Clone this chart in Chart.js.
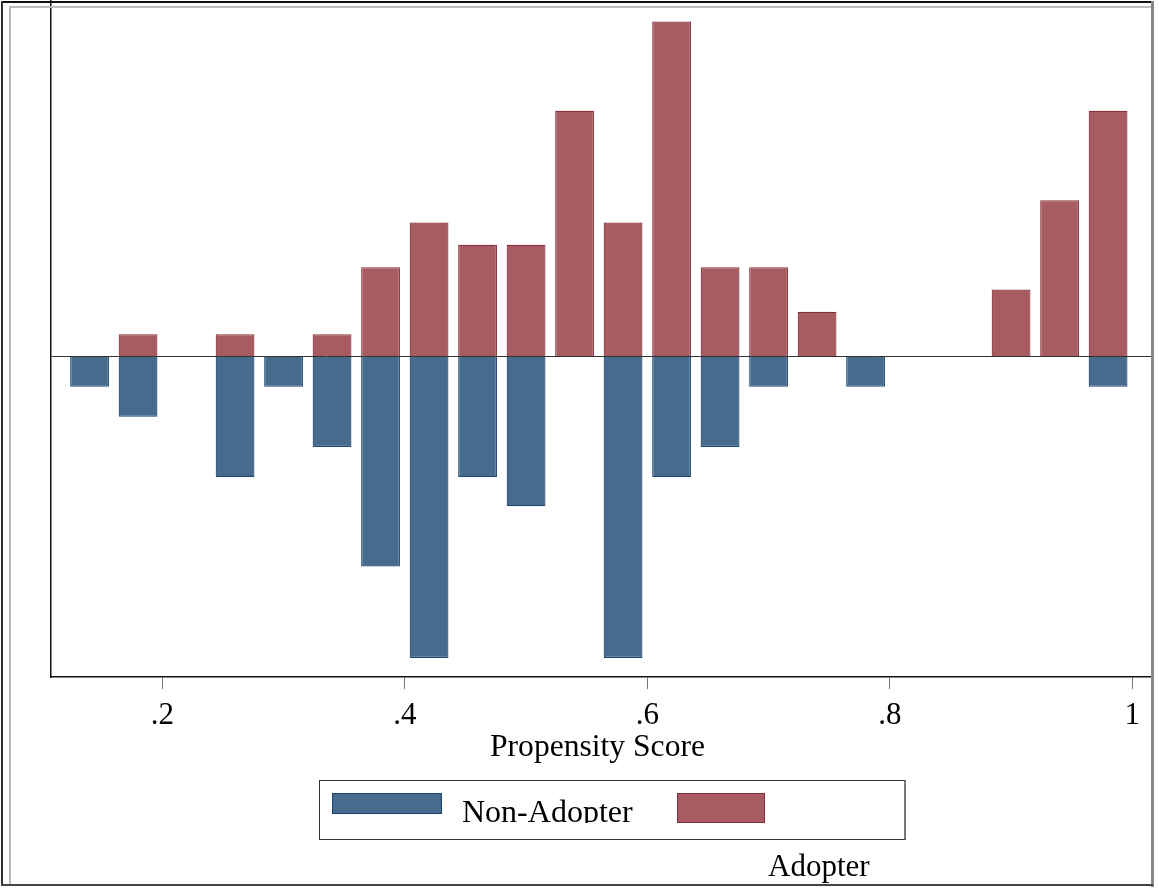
<!DOCTYPE html>
<html>
<head>
<meta charset="utf-8">
<script src="https://cdn.jsdelivr.net/npm/chart.js@4.4.1/dist/chart.umd.min.js"></script>
<style>
  html, body { margin: 0; padding: 0; background: #fff; }
  #wrap { position: relative; width: 1159px; height: 890px; overflow: hidden; font-family: "Liberation Serif", "Times New Roman", serif; color: #000; }
  #myChart { position: absolute; left: 0; top: 0; }
  .ln { position: absolute; }
  .txt { position: absolute; white-space: nowrap; line-height: 32px; }
  .sw { position: absolute; box-sizing: border-box; }
</style>
</head>
<body>
<div id="wrap">
  <canvas id="myChart" width="1159" height="890"></canvas>

  <!-- frame -->
  <div class="ln" style="left:1px;top:1px;width:1151px;height:2px;background:#111"></div>
  <div class="ln" style="left:1px;top:1px;width:2px;height:885px;background:#333"></div>
  <div class="ln" style="left:9px;top:6px;width:1142px;height:2px;background:#bbb"></div>
  <div class="ln" style="left:9px;top:6px;width:2px;height:880px;background:#bbb"></div>
  <div class="ln" style="left:1151px;top:1px;width:3px;height:886px;background:#888"></div>
  <div class="ln" style="left:1px;top:884px;width:1152px;height:2px;background:#444"></div>

  <div class="txt" style="left:490px;top:730px;font-size:31.6px">Propensity Score</div>

  <!-- legend -->
  <div class="sw" style="left:319px;top:780px;width:587px;height:60px;border:1px solid #333;border-right:2px solid #777"></div>
  <div class="sw" id="swBlue" style="left:332px;top:793px;width:110px;height:21px"></div>
  <div class="txt" style="left:462px;top:795px;height:28px;overflow:hidden;font-size:32px">Non-Adopter</div>
  <div class="sw" id="swRed" style="left:677px;top:793px;width:88px;height:30px"></div>
  <div class="txt" style="left:768px;top:850px;font-size:31px">Adopter</div>
</div>

<script>
// propensity score bins (bar centres)
var scoreBins = [0.14, 0.18, 0.26, 0.30, 0.34, 0.38, 0.42, 0.46, 0.50, 0.54,
                 0.58, 0.62, 0.66, 0.70, 0.74, 0.78, 0.90, 0.94, 0.98];
// bar heights (same unit for both)
var adopter    = [null, 1, 1, null, 1, 4, 6, 5, 5, 11, 6, 15, 4, 4, 2, null, 3, 7, 11];
var nonAdopter = [1.35, 2.7, 5.4, 1.35, 4.05, 9.4, 13.5, 5.4, 6.7, null,
                  13.5, 5.4, 4.05, 1.35, null, 1.35, null, null, 1.35];
var tickValues = [0.2, 0.4, 0.6, 0.8, 1];
var tickLabels = [".2", ".4", ".6", ".8", "1"];

var blueFill = "#476b8d", blueLine = "#1c4672";
var redFill = "#a65c60", redLine = "#86303a";

document.getElementById("swBlue").style.cssText += ";background:" + blueFill + ";border:1px solid " + blueLine;
document.getElementById("swRed").style.cssText += ";background:" + redFill + ";border:1px solid " + redLine;

function points(vals, sign) {
    var out = [];
    for (var i = 0; i < scoreBins.length; i++) {
        if (vals[i] !== null) out.push({ x: scoreBins[i], y: sign * vals[i] });
    }
    return out;
}

var serif = "'Liberation Serif', 'Times New Roman', serif";

var ctx = document.getElementById("myChart").getContext("2d");
var psChart = new Chart(ctx, {
    type: "bar",
    data: {
        datasets: [{
            label: "Non-Adopter",
            data: points(nonAdopter, -1),
            backgroundColor: blueFill,
            borderColor: blueLine,
            borderWidth: 1.2,
            grouped: false,
            categoryPercentage: 1,
            barPercentage: 0.8
        }, {
            label: "Adopter",
            data: points(adopter, 1),
            backgroundColor: redFill,
            borderColor: redLine,
            borderWidth: 1.2,
            grouped: false,
            categoryPercentage: 1,
            barPercentage: 0.8
        }]
    },
    options: {
        responsive: false,
        animation: false,
        layout: { padding: { left: 0, right: 8, top: 0, bottom: 0 } },
        plugins: {
            legend: { display: false },
            tooltip: { enabled: false }
        },
        scales: {
            x: {
                type: "linear",
                min: 0.1082,
                max: 1.0154,
                offset: false,
                afterBuildTicks: function (scale) {
                    scale.ticks = tickValues.map(function (v) { return { value: v }; });
                },
                afterFit: function (scale) { scale.height = 213; },
                ticks: {
                    padding: 8,
                    color: "#000",
                    font: { family: serif, size: 31 },
                    callback: function (value) {
                        var i = tickValues.indexOf(value);
                        return i >= 0 ? tickLabels[i] : "";
                    }
                },
                grid: {
                    offset: false,
                    drawOnChartArea: false,
                    drawTicks: true,
                    tickLength: 12,
                    tickColor: "#777",
                    tickWidth: 1
                },
                border: { display: true, color: "#111", width: 1.5 }
            },
            y: {
                min: -14.35,
                max: 15.96,
                afterBuildTicks: function (scale) { scale.ticks = [{ value: 0 }]; },
                afterFit: function (scale) { scale.width = 51; },
                ticks: { display: false },
                grid: {
                    drawTicks: false,
                    color: "#333",
                    lineWidth: 1
                },
                border: { display: true, color: "#111", width: 1.5 }
            }
        }
    }
});
</script>
</body>
</html>
